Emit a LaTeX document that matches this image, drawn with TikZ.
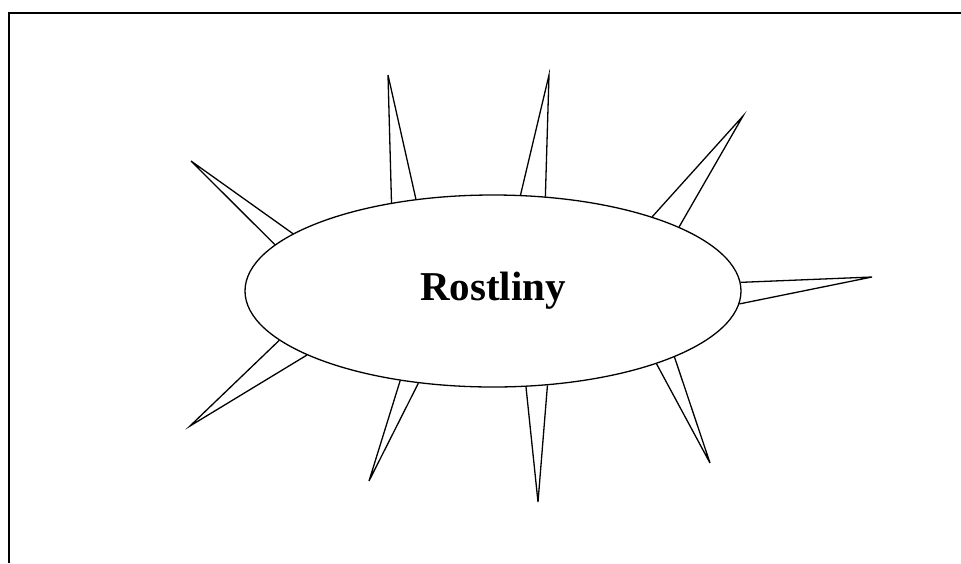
\documentclass[tikz,border=0pt]{standalone}
\usepackage{fontspec}
\setmainfont{Liberation Serif}
\usepackage{tikz}
\usetikzlibrary{shapes.geometric}
\tikzset{
  blob/.style={
    draw=black,
    fill=white,
    ellipse,
    line width=1.3pt,
    minimum width=496pt,
    minimum height=192pt,
    inner sep=0pt,
    font=\fontsize{41}{43}\selectfont\bfseries,
  },
  spike/.style={
    draw=black,
    line width=1.3pt,
    line join=miter,
  },
  frameline/.style={
    draw=black,
    line width=2pt,
  },
}

\begin{document}
\begin{tikzpicture}[x=1pt, y=-1pt]
  \useasboundingbox (0,0) rectangle (961,563);

  % --- frame (top and left edge only) ---
  \coordinate (fbl) at (8.5,563);
  \coordinate (ftl) at (8.5,12.5);
  \coordinate (ftr) at (961,12.5);
  \draw[frameline] (fbl) -- (ftl) -- (ftr);

  % --- the ellipse ---
  \node[blob] (rost) at (493,291) {Rostliny};

  % --- spike tips ---
  \coordinate (t1) at (191,161);
  \coordinate (t2) at (388,75);
  \coordinate (t3) at (549,75);
  \coordinate (t4) at (743,116);
  \coordinate (t5) at (872,277);
  \coordinate (t6) at (190,426);
  \coordinate (t7) at (369,481);
  \coordinate (t8) at (538,502);
  \coordinate (t9) at (710,463);

  % --- spikes ---
  \draw[spike] (rost.168.7) -- (t1) -- (rost.164.3);
  \draw[spike] (rost.139.6) -- (t2) -- (rost.130.5);
  \draw[spike] (rost.74.4)  -- (t3) -- (rost.61.9);
  \draw[spike] (rost.25.3)  -- (t4) -- (rost.19.8);
  \draw[spike] (rost.2.9)   -- (t5) -- (rost.-3.1);
  \draw[spike] (rost.193.9) -- (t6) -- (rost.199.0);
  \draw[spike] (rost.224.0) -- (t7) -- (rost.231.9);
  \draw[spike] (rost.289.4) -- (t8) -- (rost.300.9);
  \draw[spike] (rost.336.2) -- (t9) -- (rost.340.6);
\end{tikzpicture}
\end{document}
